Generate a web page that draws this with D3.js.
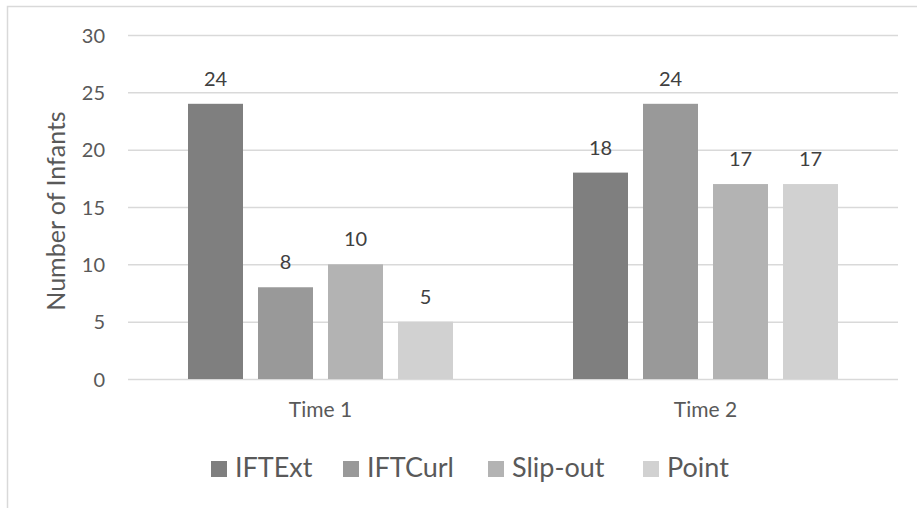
<!DOCTYPE html>
<html>
<head>
<meta charset="utf-8">
<script src="https://cdn.jsdelivr.net/npm/d3@7"></script>
<style>
  html, body { margin: 0; padding: 0; background: #fff; }
  svg { display: block; font-family: Lato, "Open Sans", sans-serif; }
</style>
</head>
<body>
<svg id="chart" width="917" height="508"></svg>
<script>
const categories = ["Time 1", "Time 2"];
const seriesNames = ["IFTExt", "IFTCurl", "Slip-out", "Point"];
const IFTExt = [24, 18];
const IFTCurl = [8, 24];
const SlipOut = [10, 17];
const Point = [5, 17];
const seriesValues = [IFTExt, IFTCurl, SlipOut, Point];
const seriesColors = ["#7f7f7f", "#999999", "#b3b3b3", "#d1d1d1"];
const yTicks = [0, 5, 10, 15, 20, 25, 30];
const yTitle = "Number of Infants";

const svg = d3.select("#chart");
const W = 917, H = 508;
const plot = { left: 128, right: 898, top: 35, bottom: 379 };

// outer chart border
svg.append("rect")
  .attr("x", 7.5).attr("y", 6.5)
  .attr("width", W + 10).attr("height", H + 10)
  .attr("fill", "#fff").attr("stroke", "#d9d9d9").attr("stroke-width", 1.5);

const y = d3.scaleLinear().domain([0, 30]).range([plot.bottom, plot.top]);
const x0 = d3.scaleBand().domain(categories).range([plot.left, plot.right]).padding(0);
const x1 = d3.scaleBand().domain(seriesNames)
  .range([0, x0.bandwidth() * 280 / 385])
  .paddingInner(15 / 70).paddingOuter(7.5 / 70);
const groupOffset = (x0.bandwidth() - x1.range()[1]) / 2;

// gridlines + y tick labels via axis
const yAxis = d3.axisLeft(y).tickValues(yTicks).tickSize(-(plot.right - plot.left)).tickPadding(23);
const gy = svg.append("g").attr("transform", `translate(${plot.left},0)`).call(yAxis);
gy.select(".domain").remove();
gy.selectAll(".tick line").attr("stroke", "#d9d9d9").attr("stroke-width", 1.5);
gy.selectAll(".tick text").attr("fill", "#595959").style("font-size", "20px")
  .style("font-family", "Lato, sans-serif").attr("dy", "0.35em");

// x axis labels
const xAxis = d3.axisBottom(x0).tickSize(0).tickPadding(0);
const gx = svg.append("g").attr("transform", `translate(0,${plot.bottom})`).call(xAxis);
gx.select(".domain").remove();
gx.selectAll(".tick text").attr("fill", "#595959").style("font-size", "21px")
  .style("font-family", "Lato, sans-serif").attr("y", 38).attr("dy", 0);

// bars
const groups = svg.append("g").selectAll("g").data(categories).join("g")
  .attr("transform", d => `translate(${x0(d) + groupOffset},0)`);
groups.each(function(cat, ci) {
  const g = d3.select(this);
  const data = seriesNames.map((s, si) => ({ s, v: seriesValues[si][ci], c: seriesColors[si] }));
  g.selectAll("rect").data(data).join("rect")
    .attr("x", d => x1(d.s)).attr("width", x1.bandwidth())
    .attr("y", d => y(d.v)).attr("height", d => y(0) - y(d.v))
    .attr("fill", d => d.c);
  g.selectAll("text").data(data).join("text")
    .attr("x", d => x1(d.s) + x1.bandwidth() / 2)
    .attr("y", d => y(d.v) - 18)
    .attr("text-anchor", "middle")
    .attr("fill", "#404040").style("font-size", "20px")
    .text(d => d.v);
});

// y title
svg.append("text")
  .attr("transform", `translate(65,${(plot.top + plot.bottom) / 2 + 4}) rotate(-90)`)
  .attr("text-anchor", "middle").attr("fill", "#595959").style("font-size", "25px")
  .text(yTitle);

// legend
const legendX = [211, 343, 488, 643];
const lg = svg.append("g").selectAll("g").data(seriesNames).join("g")
  .attr("transform", (d, i) => `translate(${legendX[i]},461)`);
lg.append("rect").attr("width", 16).attr("height", 16).attr("fill", (d, i) => seriesColors[i]);
lg.append("text").attr("x", 24).attr("y", 16).attr("fill", "#595959")
  .style("font-size", "27px").text(d => d);
</script>
</body>
</html>
